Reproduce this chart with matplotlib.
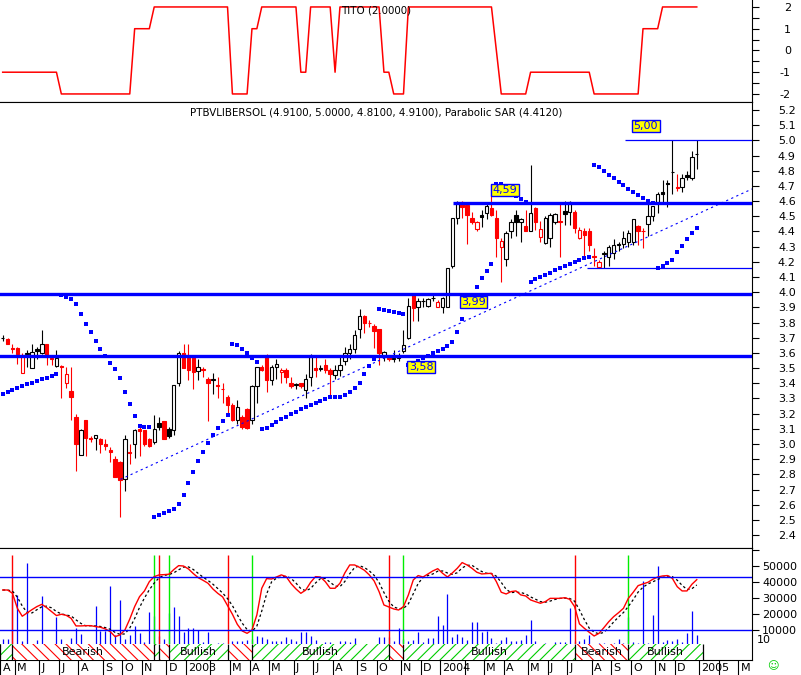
import numpy as np
import pandas as pd
import matplotlib
matplotlib.use("Agg")
import matplotlib.pyplot as plt
from matplotlib.patches import Rectangle
from matplotlib.transforms import blended_transform_factory

plt.rcParams['font.family'] = 'DejaVu Sans'
plt.rcParams['font.size'] = 8
plt.rcParams['hatch.linewidth'] = 0.8

# ---- weekly data, first bar = week ending 2002-04-12 ----
first_week = "2002-04-12"
ticker = "PTBVLIBERSOL"

opens = [3.70, 3.69, 3.63, 3.63, 3.465, 3.595, 3.50, 3.625, 3.60, 3.66,
         3.565, 3.515, 3.515, 3.40, 3.35, 3.18, 2.93, 3.16, 3.04, 3.04,
         3.03, 3.00, 2.96, 2.90, 2.88, 2.77, 2.95, 3.00, 3.10, 3.09,
         3.03, 3.01, 3.14, 3.15, 3.10, 3.09, 3.40, 3.60, 3.58, 3.57,
         3.48, 3.495, 3.43, 3.42, 3.39, 3.365, 3.31, 3.26, 3.16, 3.18,
         3.23, 3.16, 3.38, 3.505, 3.575, 3.42, 3.505, 3.475, 3.49, 3.40,
         3.39, 3.40, 3.355, 3.44, 3.50, 3.495, 3.52, 3.49, 3.455, 3.49,
         3.55, 3.60, 3.625, 3.755, 3.84, 3.80, 3.78, 3.755, 3.575, 3.575,
         3.56, 3.565, 3.615, 3.70, 3.98, 3.90, 3.94, 3.91, 3.96, 3.905,
         3.905, 3.905, 4.17, 4.49, 4.595, 4.575, 4.49, 4.415, 4.51, 4.52,
         4.555, 4.49, 4.295, 4.22, 4.40, 4.51, 4.46, 4.435, 4.405, 4.555,
         4.365, 4.325, 4.355, 4.46, 4.47, 4.535, 4.53, 4.53, 4.355, 4.40,
         4.40, 4.24, 4.165, 4.25, 4.235, 4.26, 4.31, 4.32, 4.33, 4.33,
         4.435, 4.405, 4.45, 4.505, 4.585, 4.66, 4.72, 4.79, 4.69, 4.69,
         4.77, 4.755, 4.91]

highs = [3.72, 3.70, 3.66, 3.64, 3.60, 3.62, 3.66, 3.64, 3.75, 3.66,
         3.58, 3.62, 3.52, 3.51, 3.51, 3.20, 3.10, 3.16, 3.05, 3.06,
         3.04, 3.03, 2.98, 2.92, 2.89, 3.06, 3.00, 3.10, 3.11, 3.09,
         3.04, 3.19, 3.18, 3.15, 3.11, 3.39, 3.61, 3.66, 3.66, 3.58,
         3.56, 3.51, 3.44, 3.47, 3.44, 3.40, 3.32, 3.27, 3.29, 3.19,
         3.24, 3.39, 3.51, 3.52, 3.59, 3.52, 3.56, 3.50, 3.50, 3.44,
         3.40, 3.40, 3.46, 3.59, 3.58, 3.52, 3.56, 3.50, 3.52, 3.58,
         3.64, 3.66, 3.75, 3.89, 3.85, 3.82, 3.79, 3.76, 3.61, 3.58,
         3.62, 3.60, 3.75, 3.96, 3.99, 3.96, 3.96, 3.96, 3.98, 3.95,
         3.97, 4.16, 4.49, 4.60, 4.60, 4.58, 4.53, 4.47, 4.54, 4.58,
         4.71, 4.54, 4.36, 4.40, 4.48, 4.54, 4.49, 4.54, 4.84, 4.56,
         4.47, 4.50, 4.52, 4.52, 4.58, 4.60, 4.60, 4.54, 4.43, 4.42,
         4.42, 4.29, 4.21, 4.27, 4.31, 4.35, 4.33, 4.40, 4.41, 4.48,
         4.44, 4.42, 4.58, 4.57, 4.66, 4.74, 4.74, 5.00, 4.78, 4.78,
         4.80, 4.93, 5.00]

lows = [3.68, 3.66, 3.60, 3.53, 3.465, 3.51, 3.50, 3.56, 3.59, 3.52,
        3.52, 3.51, 3.30, 3.37, 3.16, 2.82, 2.93, 2.92, 3.01, 2.96,
        2.94, 2.96, 2.88, 2.78, 2.52, 2.69, 2.87, 2.91, 2.92, 2.99,
        2.98, 3.00, 3.09, 3.03, 3.04, 3.06, 3.38, 3.50, 3.42, 3.36,
        3.42, 3.44, 3.15, 3.33, 3.30, 3.27, 3.20, 3.15, 3.13, 3.10,
        3.10, 3.13, 3.27, 3.48, 3.34, 3.39, 3.43, 3.40, 3.40, 3.37,
        3.36, 3.37, 3.30, 3.38, 3.44, 3.48, 3.47, 3.31, 3.43, 3.45,
        3.52, 3.56, 3.60, 3.70, 3.73, 3.77, 3.63, 3.52, 3.55, 3.55,
        3.54, 3.55, 3.60, 3.69, 3.81, 3.81, 3.90, 3.90, 3.94, 3.90,
        3.865, 3.90, 4.16, 4.45, 4.49, 4.32, 4.45, 4.40, 4.43, 4.48,
        4.50, 4.23, 4.07, 4.17, 4.36, 4.37, 4.33, 4.40, 4.40, 4.41,
        4.33, 4.32, 4.30, 4.45, 4.23, 4.44, 4.44, 4.39, 4.35, 4.23,
        4.27, 4.17, 4.16, 4.16, 4.17, 4.22, 4.27, 4.29, 4.30, 4.31,
        4.31, 4.29, 4.37, 4.47, 4.52, 4.58, 4.56, 4.65, 4.67, 4.66,
        4.74, 4.74, 4.81]

closes = [3.70, 3.66, 3.625, 3.59, 3.585, 3.60, 3.605, 3.61, 3.66, 3.57,
          3.56, 3.565, 3.51, 3.46, 3.31, 3.00, 3.09, 3.04, 3.035, 3.06,
          3.00, 2.99, 2.95, 2.78, 2.76, 3.03, 2.94, 3.09, 3.085, 3.00,
          2.99, 3.10, 3.11, 3.03, 3.05, 3.39, 3.60, 3.50, 3.49, 3.475,
          3.505, 3.49, 3.40, 3.43, 3.38, 3.36, 3.26, 3.16, 3.245, 3.11,
          3.105, 3.38, 3.505, 3.49, 3.42, 3.505, 3.53, 3.49, 3.44, 3.385,
          3.395, 3.38, 3.43, 3.57, 3.49, 3.50, 3.485, 3.46, 3.49, 3.52,
          3.60, 3.625, 3.72, 3.845, 3.80, 3.795, 3.745, 3.60, 3.605, 3.56,
          3.565, 3.57, 3.655, 3.91, 3.895, 3.94, 3.945, 3.955, 3.965, 3.935,
          3.965, 4.16, 4.49, 4.595, 4.56, 4.51, 4.465, 4.46, 4.495, 4.57,
          4.51, 4.36, 4.34, 4.39, 4.46, 4.465, 4.48, 4.405, 4.525, 4.46,
          4.415, 4.49, 4.51, 4.515, 4.465, 4.515, 4.595, 4.42, 4.41, 4.38,
          4.31, 4.235, 4.20, 4.26, 4.295, 4.31, 4.315, 4.355, 4.39, 4.48,
          4.405, 4.40, 4.505, 4.565, 4.645, 4.65, 4.71, 4.795, 4.685, 4.755,
          4.76, 4.89, 4.91]

volume = [4400, 4400, 31800, 31800, 2800, 52100, 1100, 3800, 31400, 1100,
          1100, 18300, 4200, 1100, 4800, 11000, 7300, 1100, 1100, 25000,
          9400, 9400, 37600, 6900, 28700, 4400, 6900, 12700, 7900, 2300,
          21400, 18900, 6500, 4400, 20800, 24500, 18700, 8600, 11500, 11500,
          9800, 2300, 8600, 1100, 2100, 2100, 1100, 2800, 2800, 2800,
          3800, 4200, 6300, 5900, 4200, 2800, 3200, 2800, 5300, 4200,
          2800, 8600, 8600, 6300, 3800, 1100, 2300, 2300, 1100, 2800,
          2800, 2300, 4800, 1100, 1100, 1100, 1100, 5500, 5500, 5500,
          2800, 11000, 4400, 3200, 3800, 8600, 2300, 4800, 4800, 18700,
          13100, 32200, 5300, 7300, 5700, 3800, 14800, 14800, 8600, 9400,
          4800, 2100, 3800, 5500, 3200, 3200, 3600, 6900, 16200, 3200,
          1100, 1700, 1100, 2300, 2300, 2300, 23900, 2800, 3200, 4200,
          6900, 1100, 2100, 2100, 1100, 2100, 4200, 2100, 18300, 2300,
          1700, 40500, 2100, 19300, 50000, 2300, 3800, 3200, 4200, 2300,
          7900, 21800, 6900]

oscillator = [60.4, 60.4, 57.9, 46.6, 40.6, 43.1, 45.6, 47.9, 49.6, 47.1,
              44.1, 41.1, 42.1, 41.3, 39.0, 33.3, 33.3, 33.5, 33.5, 32.8,
              32.3, 31.0, 29.0, 25.2, 26.5, 30.2, 38.5, 47.9, 55.4, 59.7,
              66.7, 70.5, 71.8, 72.0, 72.3, 75.8, 78.8, 78.5, 76.3, 72.8,
              69.7, 67.7, 65.5, 61.2, 57.9, 55.2, 48.6, 42.1, 34.5, 29.5,
              27.7, 30.2, 41.6, 61.7, 69.0, 68.7, 70.2, 71.8, 70.5, 65.2,
              61.2, 57.9, 60.4, 66.2, 70.5, 70.2, 66.7, 61.7, 61.7, 65.5,
              73.3, 79.3, 79.3, 77.5, 75.3, 71.8, 67.2, 59.2, 49.1, 47.6,
              46.1, 45.3, 47.9, 56.7, 68.0, 71.3, 70.2, 72.5, 74.8, 76.5,
              73.0, 70.2, 73.3, 76.8, 81.1, 79.3, 76.8, 73.8, 72.5, 72.8,
              73.0, 66.7, 58.7, 57.4, 59.2, 59.7, 56.7, 55.9, 52.9, 51.6,
              50.4, 51.6, 54.1, 54.1, 54.1, 54.6, 53.4, 47.9, 34.8, 31.5,
              28.5, 25.7, 27.7, 32.0, 36.5, 40.3, 43.3, 46.6, 54.1, 58.7,
              63.7, 65.0, 66.2, 68.5, 70.2, 71.0, 71.3, 69.2, 62.9, 59.7,
              59.7, 64.7, 68.2]

tito = [-1, -1, -1, -1, -1, -1, -1, -1, -1, -1,
        -1, -1, -2, -2, -2, -2, -2, -2, -2, -2,
        -2, -2, -2, -2, -2, -2, -2, 1, 1, 1,
        1, 2, 2, 2, 2, 2, 2, 2, 2, 2,
        2, 2, 2, 2, 2, 2, 2, -2, -2, -2,
        -2, 1, 1, 2, 2, 2, 2, 2, 2, 2,
        2, -1, -1, 2, 2, 2, 2, 2, -1, 2,
        2, 2, 2, 2, 2, 2, 2, 2, -1, -1,
        -2, -2, -2, 2, 2, 2, 2, 2, 2, 2,
        2, 2, 2, 2, 2, 2, 2, 2, 2, 2,
        2, 0, -2, -2, -2, -2, -2, -2, -1, -1,
        -1, -1, -1, -1, -1, -1, -1, -1, -1, -1,
        -1, -2, -2, -2, -2, -2, -2, -2, -2, -2,
        -2, 1, 1, 1, 1, 2, 2, 2, 2, 2,
        2, 2, 2]

sell_weeks = [2, 32, 46, 79, 117]
buy_weeks = [31, 34, 51, 82, 128]

# support / resistance levels drawn by hand on the chart
thick_levels = [3.58, 3.99, 4.59]
thin_levels = [5.00, 4.16]
level_tags = ["3,58", "3,99", "4,59", "5,00"]
trend_x = [24.1, 153.3]
trend_y = [2.767, 4.68]

# parabolic SAR starting state (trend already rising before first bar)
sar_start = 3.33
sar_ep = 3.98
sar_last = 4.412


def parabolic_sar(high, low, start, ep, rising, step=0.02, limit=0.2):
    out = np.zeros(len(high))
    sar, af = start, step
    for i in range(len(high)):
        if i > 0:
            sar = sar + af * (ep - sar)
            if rising:
                sar = min(sar, low[i - 1], low[max(i - 2, 0)])
            else:
                sar = max(sar, high[i - 1], high[max(i - 2, 0)])
        if rising and low[i] < sar:
            rising, sar, ep, af = False, ep, low[i], step
        elif not rising and high[i] > sar:
            rising, sar, ep, af = True, ep, high[i], step
        elif rising and high[i] > ep:
            ep, af = high[i], min(af + step, limit)
        elif not rising and low[i] < ep:
            ep, af = low[i], min(af + step, limit)
        out[i] = sar
    return out


n = len(closes)
x = np.arange(n)
o = np.array(opens)
h = np.array(highs)
l = np.array(lows)
c = np.array(closes)
sar = parabolic_sar(h, l, sar_start, sar_ep, True)
signal = pd.Series(oscillator).rolling(3, min_periods=1).mean()

BLUE = "#0000ff"
RED = "#ff0000"
GREEN = "#00ee00"

W, H = 801, 675
fig = plt.figure(figsize=(W / 100, H / 100), dpi=100)
x_left, x_right = -0.55, 153.3
axw = 752 / W

ax_t = fig.add_axes([0, 1 - 102 / H, axw, 102 / H])
ax_m = fig.add_axes([0, 1 - 548 / H, axw, 446 / H])
ax_b = fig.add_axes([0, 1 - 660 / H, axw, 112 / H])
ax_o = fig.add_axes([0, 1 - 660 / H, axw, 112 / H], sharex=ax_b)


def right_axis(ax, ticks, labels, pad):
    ax.set_xlim(x_left, x_right)
    ax.spines['left'].set_visible(False)
    ax.yaxis.tick_right()
    ax.set_yticks(ticks, labels)
    ax.tick_params(axis='y', direction='out', length=5, width=0.8, pad=pad, labelsize=8)
    ax.tick_params(axis='x', bottom=False, labelbottom=False)
    for lab in ax.get_yticklabels():
        lab.set_horizontalalignment('right')


# ---- top panel: TITO ----
ax_t.plot(x, tito, color=RED, lw=1.1)
ax_t.set_ylim(-2.37, 2.32)
right_axis(ax_t, [-2, -1, 0, 1, 2], ["-2", "-1", "0", "1", "2"], 23)
ax_t.set_yticks([-1.5, -0.5, 0.5, 1.5], minor=True)
ax_t.tick_params(axis='y', which='minor', direction='out', length=5, width=0.8)
ax_t.spines['top'].set_visible(False)
ax_t.text(0.5, 0.9, "TITO (2.0000)", transform=ax_t.transAxes, ha='center', va='center',
          fontsize=7.4)

# ---- main panel: candles ----
up = np.r_[True, c[1:] >= c[:-1]]
colors = np.where(up, "black", RED)
filled = c < o
ax_m.vlines(x, l, h, colors=colors, lw=0.8, zorder=2)
face = [col if f else "white" for col, f in zip(colors, filled)]
ax_m.bar(x, np.abs(c - o), bottom=np.minimum(o, c), width=0.7,
         color=face, edgecolor=colors, linewidth=0.8, zorder=3)

for lvl in thick_levels[:2]:
    ax_m.axhline(lvl, color=BLUE, lw=2.4, zorder=4)
ax_m.hlines(thick_levels[2], 92.1, x_right, color=BLUE, lw=2.4, zorder=4)
ax_m.hlines(thin_levels[0], 127.3, x_right, color=BLUE, lw=0.9, zorder=4)
ax_m.hlines(thin_levels[1], 119.6, x_right, color=BLUE, lw=0.9, zorder=4)
ax_m.plot(trend_x, trend_y, color=BLUE, lw=0.8, ls=(0, (2, 3)), zorder=4)
ax_m.plot(x, sar, ls='none', marker='s', ms=2.2, color=BLUE, mew=0, zorder=5)

tag_pos = [(85.6, 3.507), (96.3, 3.935), (102.8, 4.673), (131.6, 5.095)]
for tag, (tx, ty) in zip(level_tags, tag_pos):
    ax_m.text(tx, ty, tag, ha='center', va='center', color=BLUE, fontsize=8, zorder=6,
              bbox=dict(boxstyle='square,pad=0.12', facecolor='yellow', edgecolor=BLUE, lw=1))

ax_m.set_ylim(2.315, 5.253)
pticks = np.round(np.arange(2.4, 5.25, 0.1), 1)
right_axis(ax_m, pticks, ["%.1f" % t for t in pticks], 26.5)
ax_m.text(0.5, 0.977,
          "%s (%.4f, %.4f, %.4f, %.4f), Parabolic SAR (%.4f)" % (ticker, o[-1], h[-1], l[-1], c[-1], sar_last),
          transform=ax_m.transAxes, ha='center', va='center', fontsize=7.4)

# ---- bottom panel: volume, oscillator, bull/bear band ----
ax_b.vlines(x, 0, volume, color=BLUE, lw=0.9, zorder=1)
ax_b.set_ylim(-8770, 61250)
vticks = [10000, 20000, 30000, 40000, 50000, 60000]
right_axis(ax_b, vticks, ["10000", "20000", "30000", "40000", "50000", ""], 27.5)

band_lo, band_hi = -8770, 1100
ax_b.vlines(sell_weeks, band_hi, 56700, color=RED, lw=1, zorder=2)
ax_b.vlines(buy_weeks, band_hi, 56700, color=GREEN, lw=1, zorder=2)

edges = [x_left] + sorted(sell_weeks + buy_weeks) + [n + 0.35]
for k in range(len(edges) - 1):
    x0, x1 = edges[k], edges[k + 1]
    bull = (k % 2 == 0)
    col = "#00cc00" if bull else RED
    ax_b.add_patch(Rectangle((x0, band_lo), x1 - x0, band_hi - band_lo, facecolor='white',
                             edgecolor=col, hatch='///' if bull else '\\\\\\', lw=0, zorder=3))
    if x1 - x0 > 9:
        ax_b.text((x0 + x1) / 2, (band_lo + band_hi) / 2, "Bullish" if bull else "Bearish",
                  ha='center', va='center', fontsize=8, zorder=5)
ax_b.vlines(edges, band_lo, band_hi, color='black', lw=0.9, zorder=4)

# month axis
dates = pd.date_range(first_week, periods=170, freq="7D")
tick_pos, tick_lab = [], []
prev = None
for i, d in enumerate(dates):
    if i - 0.5 > x_right:
        break
    if (d.year, d.month) != prev:
        prev = (d.year, d.month)
        tick_pos.append(max(i - 0.5, x_left))
        if d.month == 1:
            tick_lab.append(str(d.year))
        elif d.month == 2:
            tick_lab.append("")
        else:
            tick_lab.append(d.strftime("%b")[0])
ax_b.set_xticks(tick_pos)
ax_b.tick_params(axis='x', bottom=True, direction='out', length=10.8, width=0.8, labelbottom=False)
trans = blended_transform_factory(ax_b.transData, ax_b.transAxes)
for tp, tl in zip(tick_pos, tick_lab):
    ax_b.text(tp + 0.45, -0.072, tl, transform=trans, ha='left', va='center', fontsize=8,
              clip_on=False)

ax_o.plot(x, signal, color='black', lw=0.9, ls=(0, (2, 2)))
ax_o.plot(x, oscillator, color=RED, lw=1.0)
ax_o.axhline(70, color=BLUE, lw=1)
ax_o.axhline(30, color=BLUE, lw=1)
ax_o.set_ylim(7.58, 92.1)
ax_o.set_xlim(x_left, x_right)
ax_o.set_axis_off()

fig.text(757 / W, 1 - 640 / H, "10", fontsize=8, va='center', ha='left')
fig.text(773 / W, 1 - 666 / H, "\u263a", fontsize=8, va='center', ha='center', color="#00cc00")

fig.savefig("out.png", dpi=100)
